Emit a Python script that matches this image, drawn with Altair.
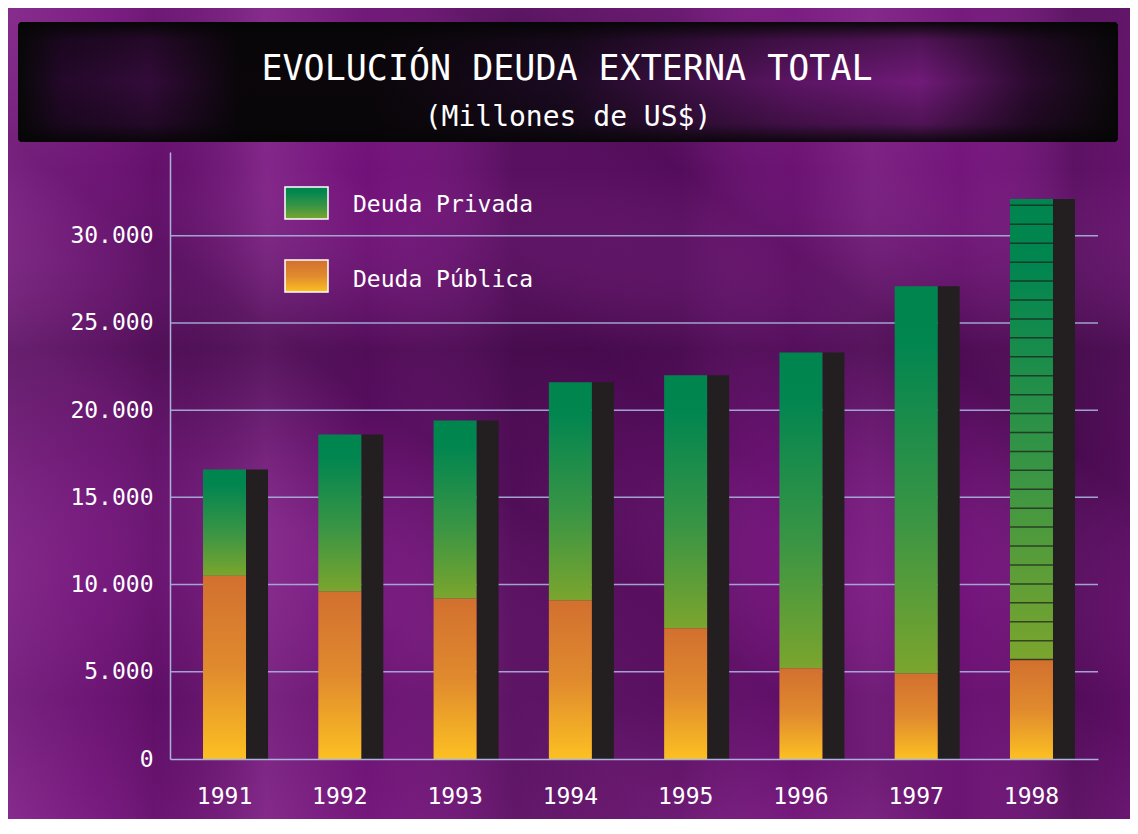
import altair as alt
import pandas as pd
import numpy as np

# ---- data ----
anios = ["1991", "1992", "1993", "1994", "1995", "1996", "1997", "1998"]
deuda_publica = [10500, 9600, 9200, 9100, 7500, 5200, 4900, 5700]
deuda_privada = [6100, 9000, 10200, 12500, 14500, 18100, 22200, 26400]
y_ticks = [0, 5000, 10000, 15000, 20000, 25000, 30000]
titulo = "EVOLUCIÓN DEUDA EXTERNA TOTAL"
subtitulo = "(Millones de US$)"
leyenda = ["Deuda Privada", "Deuda Pública"]

df = pd.DataFrame({"anio": anios, "publica": deuda_publica, "privada": deuda_privada})
df["total"] = df["publica"] + df["privada"]
grid_df = pd.DataFrame({"v": y_ticks[1:]})

# decorative stripe pattern of the 1998 bar
i98 = anios.index("1998")
franjas = pd.DataFrame({"anio": "1998",
                        "v": np.arange(deuda_publica[i98], df["total"][i98] - 300, 1085)})

FONT = "DejaVu Sans Mono"
GRID = "#aab2dc"


def lin(stops, x1=0, y1=0, x2=0, y2=1):
    return alt.LinearGradient(
        gradient="linear", x1=x1, y1=y1, x2=x2, y2=y2,
        stops=[alt.GradientStop(color=c, offset=o) for o, c in stops])


grad_verde = lin([(0, "#00854f"), (0.15, "#028650"), (0.6, "#3a9544"), (1, "#7ba52d")])
grad_naranja = lin([(0, "#d2702f"), (0.5, "#e08a2e"), (1, "#fcc022")])
grad_banner = lin([(0, "#080808"), (0.04, "#24082a"), (0.12, "#320b38"), (0.2, "#0a060a"),
                   (0.32, "#0a060a"), (0.5, "#1c0a22"), (0.7, "#5a1462"), (0.82, "#701a78"),
                   (0.92, "#2a0a2e"), (1, "#080808")], x2=1, y2=0)
grad_banner_v = lin([(0, "rgba(5,5,5,0.95)"), (0.15, "rgba(5,5,5,0.3)"), (0.5, "rgba(5,5,5,0)"),
                     (0.85, "rgba(5,5,5,0.3)"), (1, "rgba(5,5,5,0.9)")])

L = "rgba(165,80,170,{})"
D = "rgba(40,6,46,{})"
grad_h = lin([(0, L.format(0.35)), (0.08, L.format(0.1)), (0.13, D.format(0.15)),
              (0.23, L.format(0.35)), (0.32, L.format(0)), (0.45, D.format(0.35)),
              (0.6, D.format(0.25)), (0.7, L.format(0)), (0.77, L.format(0.25)),
              (0.85, L.format(0)), (0.95, D.format(0.35)), (1, D.format(0.2))], x2=1, y2=0)
grad_v = lin([(0, L.format(0.15)), (0.2, L.format(0)), (0.42, D.format(0.4)),
              (0.55, D.format(0.15)), (0.7, L.format(0.05)), (0.85, D.format(0.1)),
              (1, L.format(0.1))])
grad_d = lin([(0, D.format(0.0)), (0.3, L.format(0.12)), (0.42, D.format(0.15)),
              (0.55, L.format(0.0)), (0.7, D.format(0.2)), (0.85, L.format(0.08)),
              (1, D.format(0.15))], x1=0, y1=1, x2=1, y2=0)

one = alt.Data(values=[{"k": 1}])


def deco_rect(fill, x, x2, y, y2, **kw):
    return alt.Chart(one).mark_rect(fill=fill, **kw).encode(
        x=alt.value(x), x2=alt.value(x2), y=alt.value(y), y2=alt.value(y2))


# background texture (decorative), whole canvas relative to plot origin
fondo = [deco_rect(g, -162, 960, -144, 667) for g in (grad_h, grad_v, grad_d)]

banner = deco_rect(grad_banner, -152, 948, -130, -10, cornerRadius=4)
banner_v = deco_rect(grad_banner_v, -152, 948, -130, -10, cornerRadius=4)

X = alt.X("anio:O", title=None,
          scale=alt.Scale(paddingInner=0, paddingOuter=0.025),
          axis=alt.Axis(labelAngle=0, labelColor="white", labelFont=FONT, labelFontSize=23,
                        labelPadding=26, labelOffset=-6, ticks=False, domainColor=GRID,
                        domainWidth=1.5, grid=False, zindex=1))
Yax = alt.Axis(values=y_ticks, labelColor="white", labelFont=FONT, labelFontSize=23,
               labelPadding=17, ticks=False, domainColor=GRID, domainWidth=1.5,
               grid=False, zindex=1,
               labelExpr="replace(format(datum.value, ','), ',', '.')")
YS = alt.Scale(domain=[0, 34800], nice=False, zero=True)

rejilla = alt.Chart(grid_df).mark_rule(color=GRID, strokeWidth=1.5, opacity=0.9).encode(
    y=alt.Y("v:Q", title=None, scale=YS, axis=Yax))

sombra = alt.Chart(df).mark_bar(color="#231f20", width=22, xOffset=26.5).encode(
    x=X, y=alt.Y("total:Q", title=None, scale=YS, axis=Yax))

publica = alt.Chart(df).mark_bar(fill=grad_naranja, width=43, xOffset=-6).encode(
    x=X, y=alt.Y("publica:Q", title=None, scale=YS, axis=Yax))

privada = alt.Chart(df).mark_bar(fill=grad_verde, width=43, xOffset=-6).encode(
    x=X, y=alt.Y("publica:Q", title=None, scale=YS, axis=Yax), y2="total:Q")

rayas = alt.Chart(franjas).mark_tick(color="#1b1b1b", thickness=1.5, size=43,
                                     xOffset=-6, orient="horizontal").encode(
    x=X, y=alt.Y("v:Q", title=None, scale=YS, axis=Yax))

ley_verde = deco_rect(grad_verde, 115, 158, 35, 67, stroke="white", strokeWidth=1.5)
ley_naranja = deco_rect(grad_naranja, 115, 158, 108, 140, stroke="white", strokeWidth=1.5)
ley_txt1 = alt.Chart(one).mark_text(text=leyenda[0], font=FONT, fontSize=23, color="white",
                                    align="left", baseline="middle").encode(
    x=alt.value(183), y=alt.value(53))
ley_txt2 = alt.Chart(one).mark_text(text=leyenda[1], font=FONT, fontSize=23, color="white",
                                    align="left", baseline="middle").encode(
    x=alt.value(183), y=alt.value(128))

t1 = alt.Chart(one).mark_text(text=titulo, font=FONT, fontSize=35, color="white",
                              align="center", baseline="alphabetic").encode(
    x=alt.value(397), y=alt.value(-72))
t2 = alt.Chart(one).mark_text(text=subtitulo, font=FONT, fontSize=28, color="white",
                              align="center", baseline="alphabetic").encode(
    x=alt.value(398), y=alt.value(-26))

chart = alt.layer(*fondo, banner, banner_v, rejilla, sombra, publica, privada, rayas,
                  ley_verde, ley_naranja, ley_txt1, ley_txt2, t1, t2).properties(
    width=928, height=607,
    autosize=alt.AutoSizeParams(type="none"),
    padding={"left": 162, "top": 144, "right": 32, "bottom": 60},
    background="#701078",
).configure_view(stroke=None)

chart.save("out.html", embed_options={"renderer": "svg", "actions": False})
